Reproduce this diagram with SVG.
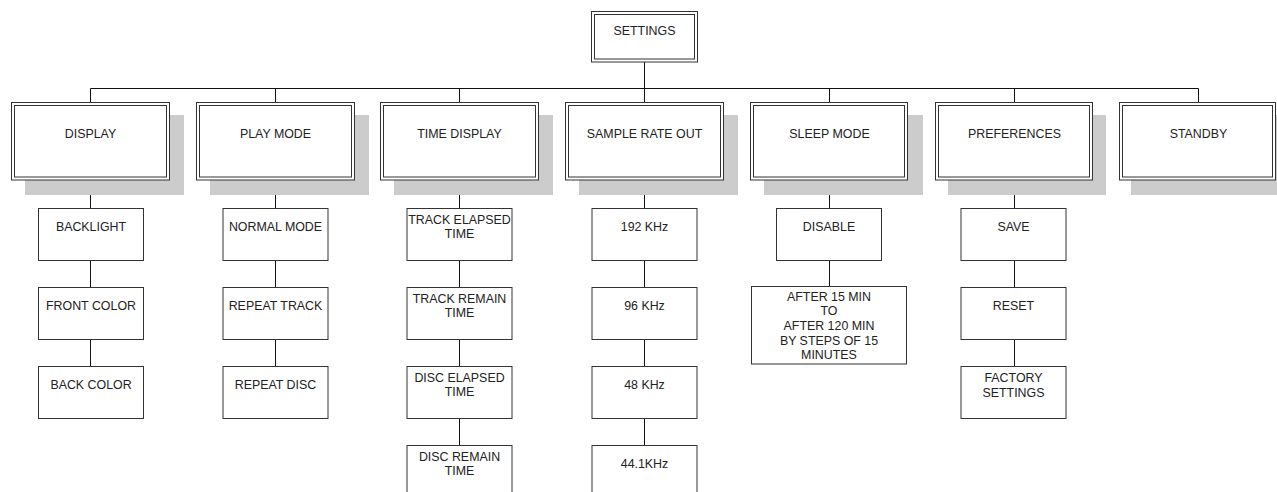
<svg xmlns="http://www.w3.org/2000/svg" width="1277" height="492" viewBox="0 0 1277 492">
<style>
.o{fill:#fff;stroke:#333;stroke-width:1}
.i{fill:none;stroke:#333;stroke-width:1}
.sh{fill:#cccccc;stroke:none}
.b{fill:#fff;stroke:#333;stroke-width:1}
.c{fill:none;stroke:#111;stroke-width:1}
text{font-family:"Liberation Sans",Arial,sans-serif;font-size:12.4px;fill:#222;text-anchor:middle}
</style>
<rect width="1277" height="492" fill="#fff"/>
<g id="connectors">
<path class="c" d="M644.5 62V103 M90.5 88.5H1198.5 M90.5 88.5V103 M275.5 88.5V103 M459.5 88.5V103 M829.5 88.5V103 M1014.5 88.5V103 M1198.5 88.5V103"/>
<path class="c" d="M90.5 180V208.5 M90.5 260.5V287.5 M90.5 339.5V366.5"/>
<path class="c" d="M275.5 180V208.5 M275.5 260.5V287.5 M275.5 339.5V366.5"/>
<path class="c" d="M459.5 180V208.5 M459.5 260.5V287.5 M459.5 339.5V366.5 M459.5 418.5V445.5"/>
<path class="c" d="M644.5 180V208.5 M644.5 260.5V287.5 M644.5 339.5V366.5 M644.5 418.5V445.5"/>
<path class="c" d="M829.5 180V208.5 M829.5 260.5V286.5"/>
<path class="c" d="M1014.5 180V208.5 M1014.5 260.5V287.5 M1014.5 339.5V366.5"/>
</g>
<g id="settings">
<rect class="o" x="591.5" y="11.5" width="106" height="50.5"/>
<rect class="i" x="594.5" y="14.5" width="100" height="44.5"/>
<text x="644.5" y="34.5">SETTINGS</text>
</g>
<g id="display">
<rect class="sh" x="25" y="115" width="159" height="80"/>
<rect class="o" x="11.5" y="102.5" width="158" height="77.5"/>
<rect class="i" x="14.5" y="105.5" width="152" height="71.5"/>
<text x="90.5" y="137.5">DISPLAY</text>
</g>
<g id="playmode">
<rect class="sh" x="210" y="115" width="159" height="80"/>
<rect class="o" x="196.5" y="102.5" width="158" height="77.5"/>
<rect class="i" x="199.5" y="105.5" width="152" height="71.5"/>
<text x="275.5" y="137.5">PLAY MODE</text>
</g>
<g id="timedisplay">
<rect class="sh" x="394" y="115" width="159" height="80"/>
<rect class="o" x="380.5" y="102.5" width="158" height="77.5"/>
<rect class="i" x="383.5" y="105.5" width="152" height="71.5"/>
<text x="459.5" y="137.5">TIME DISPLAY</text>
</g>
<g id="samplerate">
<rect class="sh" x="579" y="115" width="159" height="80"/>
<rect class="o" x="565.5" y="102.5" width="158" height="77.5"/>
<rect class="i" x="568.5" y="105.5" width="152" height="71.5"/>
<text x="644.5" y="137.5">SAMPLE RATE OUT</text>
</g>
<g id="sleepmode">
<rect class="sh" x="764" y="115" width="159" height="80"/>
<rect class="o" x="750.5" y="102.5" width="157" height="77.5"/>
<rect class="i" x="753.5" y="105.5" width="151" height="71.5"/>
<text x="829.5" y="137.5">SLEEP MODE</text>
</g>
<g id="preferences">
<rect class="sh" x="948" y="115" width="158" height="80"/>
<rect class="o" x="935.5" y="102.5" width="157" height="77.5"/>
<rect class="i" x="938.5" y="105.5" width="151" height="71.5"/>
<text x="1014.5" y="137.5">PREFERENCES</text>
</g>
<g id="standby">
<rect class="sh" x="1131" y="115" width="146" height="80"/>
<rect class="o" x="1119.5" y="102.5" width="156" height="77.5"/>
<rect class="i" x="1122.5" y="105.5" width="150" height="71.5"/>
<text x="1198.5" y="137.5">STANDBY</text>
</g>
<g id="backlight"><rect class="b" x="38.5" y="208.5" width="105" height="52"/><text x="91" y="231">BACKLIGHT</text></g>
<g id="frontcolor"><rect class="b" x="38.5" y="287.5" width="105" height="52"/><text x="91" y="310">FRONT COLOR</text></g>
<g id="backcolor"><rect class="b" x="38.5" y="366.5" width="105" height="52"/><text x="91" y="389">BACK COLOR</text></g>
<g id="normalmode"><rect class="b" x="223" y="208.5" width="105" height="52"/><text x="275.5" y="231">NORMAL MODE</text></g>
<g id="repeattrack"><rect class="b" x="223" y="287.5" width="105" height="52"/><text x="275.5" y="310">REPEAT TRACK</text></g>
<g id="repeatdisc"><rect class="b" x="223" y="366.5" width="105" height="52"/><text x="275.5" y="389">REPEAT DISC</text></g>
<g id="trackelapsed"><rect class="b" x="407" y="208.5" width="105" height="52"/><text x="459.5" y="223.5">TRACK ELAPSED</text><text x="459.5" y="237.5">TIME</text></g>
<g id="trackremain"><rect class="b" x="407" y="287.5" width="105" height="52"/><text x="459.5" y="302.5">TRACK REMAIN</text><text x="459.5" y="316.5">TIME</text></g>
<g id="discelapsed"><rect class="b" x="407" y="366.5" width="105" height="52"/><text x="459.5" y="381.5">DISC ELAPSED</text><text x="459.5" y="395.5">TIME</text></g>
<g id="discremain"><rect class="b" x="407" y="445.5" width="105" height="52"/><text x="459.5" y="460.5">DISC REMAIN</text><text x="459.5" y="474.5">TIME</text></g>
<g id="k192"><rect class="b" x="592" y="208.5" width="105" height="52"/><text x="644.5" y="231">192 KHz</text></g>
<g id="k96"><rect class="b" x="592" y="287.5" width="105" height="52"/><text x="644.5" y="310">96 KHz</text></g>
<g id="k48"><rect class="b" x="592" y="366.5" width="105" height="52"/><text x="644.5" y="389">48 KHz</text></g>
<g id="k441"><rect class="b" x="592" y="445.5" width="105" height="52"/><text x="644.5" y="468">44.1KHz</text></g>
<g id="disable"><rect class="b" x="776.5" y="208.5" width="105" height="52"/><text x="829" y="231">DISABLE</text></g>
<g id="after"><rect class="b" x="751.5" y="286.5" width="155" height="77.5"/>
<text x="829" y="300.5">AFTER 15 MIN</text>
<text x="829" y="315.2">TO</text>
<text x="829" y="330">AFTER 120 MIN</text>
<text x="829" y="344.7">BY STEPS OF 15</text>
<text x="829" y="359.4">MINUTES</text></g>
<g id="save"><rect class="b" x="961" y="208.5" width="105" height="52"/><text x="1013.5" y="231">SAVE</text></g>
<g id="reset"><rect class="b" x="961" y="287.5" width="105" height="52"/><text x="1013.5" y="310">RESET</text></g>
<g id="factory"><rect class="b" x="961" y="366.5" width="105" height="52"/><text x="1013.5" y="381.5">FACTORY</text><text x="1013.5" y="396.5">SETTINGS</text></g>
</svg>
